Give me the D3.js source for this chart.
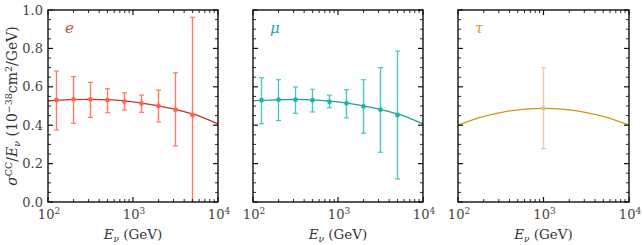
<!DOCTYPE html>
<html>
<head>
<meta charset="utf-8">
<script src="https://cdn.jsdelivr.net/npm/d3@7"></script>
<style>
  body { margin: 0; background: #fff; }
</style>
</head>
<body>
<div id="chart"></div>
<script>
// energies of the data points (GeV), log10 spacing 0.2
var energies = [125.9, 199.5, 316.2, 501.2, 794.3, 1258.9, 1995.3, 3162.3, 5011.9];

// electron flavour
var eVal = [0.531, 0.535, 0.535, 0.531, 0.524, 0.514, 0.500, 0.481, 0.453];
var eLo  = [0.375, 0.410, 0.441, 0.465, 0.479, 0.467, 0.417, 0.292, -0.05];
var eHi  = [0.682, 0.653, 0.623, 0.590, 0.569, 0.557, 0.583, 0.673, 0.962];

// muon flavour
var muVal = [0.530, 0.533, 0.533, 0.530, 0.522, 0.514, 0.498, 0.481, 0.453];
var muLo  = [0.408, 0.424, 0.462, 0.469, 0.491, 0.438, 0.358, 0.259, 0.120];
var muHi  = [0.647, 0.637, 0.599, 0.587, 0.556, 0.585, 0.637, 0.700, 0.786];

// tau flavour
var tauE   = [1000];
var tauVal = [0.488];
var tauLo  = [0.278];
var tauHi  = [0.700];

// theory curves (sampled)
var curveE   = [100, 177.8, 316.2, 562.3, 1000, 1778, 3162, 5623, 10000];
var eCurve   = [0.526, 0.533, 0.535, 0.532, 0.522, 0.505, 0.482, 0.452, 0.406];
var muCurve  = [0.527, 0.532, 0.534, 0.531, 0.521, 0.505, 0.482, 0.452, 0.406];
var tauCurve = [0.400, 0.440, 0.466, 0.482, 0.488, 0.482, 0.466, 0.440, 0.400];

var yTicks = [0.0, 0.2, 0.4, 0.6, 0.8, 1.0];
var xTicks = [100, 1000, 10000];

var panels = [
  {name: "e", left: 48, right: 218, E: energies, v: eVal, lo: eLo, hi: eHi, curve: eCurve,
   line: "#b8382a", mark: "#ff6347", err: "#ff7b63", lab: "#d9453a"},
  {name: "\u03bc", left: 253, right: 423, E: energies, v: muVal, lo: muLo, hi: muHi, curve: muCurve,
   line: "#1a9f99", mark: "#20b2aa", err: "#4cc6bf", lab: "#20a8a0"},
  {name: "\u03c4", left: 458, right: 629, E: tauE, v: tauVal, lo: tauLo, hi: tauHi, curve: tauCurve,
   line: "#c9961a", mark: "#dcbd9c", err: "#e8cbaa", lab: "#d4a017"}
];

var plotTop = 10, plotBottom = 202;
var serif = "'DejaVu Serif', serif";

var svg = d3.select("#chart").append("svg")
    .attr("width", 643)
    .attr("height", 245)
    .attr("font-family", serif)
    .style("font-family", serif);

var y = d3.scaleLinear().domain([0, 1]).range([plotBottom, plotTop]);

var minorY = d3.range(0, 1.0001, 0.05);
var minorX = [];
[100, 1000].forEach(function(d){
    for (var k = 2; k <= 9; k++) minorX.push(d * k);
});

panels.forEach(function(p, i){
    var x = d3.scaleLog().domain([100, 10000]).range([p.left, p.right]);
    var g = svg.append("g");

    var clipId = "clip" + i;
    svg.append("clipPath").attr("id", clipId).append("rect")
        .attr("x", p.left).attr("y", plotTop).attr("width", p.right - p.left).attr("height", plotBottom - plotTop);

    var plot = g.append("g").attr("clip-path", "url(#" + clipId + ")");

    // theory curve
    var line = d3.line()
        .x(function(d, j){ return x(curveE[j]); })
        .y(function(d){ return y(d); })
        .curve(d3.curveMonotoneX);
    plot.append("path")
        .datum(p.curve)
        .attr("d", line)
        .attr("fill", "none")
        .attr("stroke", p.line)
        .attr("stroke-width", 1.3);

    // error bars
    var idx = d3.range(p.v.length);
    plot.selectAll(".eb").data(idx).enter().append("line")
        .attr("x1", function(j){ return x(p.E[j]); })
        .attr("x2", function(j){ return x(p.E[j]); })
        .attr("y1", function(j){ return y(p.lo[j]); })
        .attr("y2", function(j){ return y(p.hi[j]); })
        .attr("stroke", p.err).attr("stroke-width", 1.4);
    [p.lo, p.hi].forEach(function(arr){
        plot.selectAll(null).data(idx).enter().append("line")
            .attr("x1", function(j){ return x(p.E[j]) - 2.5; })
            .attr("x2", function(j){ return x(p.E[j]) + 2.5; })
            .attr("y1", function(j){ return y(arr[j]); })
            .attr("y2", function(j){ return y(arr[j]); })
            .attr("stroke", p.err).attr("stroke-width", 1.2);
    });
    plot.selectAll(".pt").data(idx).enter().append("circle")
        .attr("cx", function(j){ return x(p.E[j]); })
        .attr("cy", function(j){ return y(p.v[j]); })
        .attr("r", 2.4)
        .attr("fill", p.mark);

    // frame
    g.append("rect")
        .attr("x", p.left).attr("y", plotTop)
        .attr("width", p.right - p.left).attr("height", plotBottom - plotTop)
        .attr("fill", "none").attr("stroke", "#111").attr("stroke-width", 1.4);

    // y ticks (inward, both sides)
    minorY.forEach(function(v){
        var major = Math.abs(Math.round(v * 5) - v * 5) < 1e-6;
        var len = major ? 5 : 3;
        g.append("line").attr("x1", p.left).attr("x2", p.left + len)
            .attr("y1", y(v)).attr("y2", y(v)).attr("stroke", "#111").attr("stroke-width", major ? 1.2 : 0.9);
        g.append("line").attr("x1", p.right).attr("x2", p.right - len)
            .attr("y1", y(v)).attr("y2", y(v)).attr("stroke", "#111").attr("stroke-width", major ? 1.2 : 0.9);
    });

    // x ticks (inward, top and bottom)
    xTicks.concat(minorX).forEach(function(v){
        var major = xTicks.indexOf(v) >= 0;
        var len = major ? 5 : 3;
        g.append("line").attr("x1", x(v)).attr("x2", x(v))
            .attr("y1", plotBottom).attr("y2", plotBottom - len).attr("stroke", "#111").attr("stroke-width", major ? 1.2 : 0.9);
        g.append("line").attr("x1", x(v)).attr("x2", x(v))
            .attr("y1", plotTop).attr("y2", plotTop + len).attr("stroke", "#111").attr("stroke-width", major ? 1.2 : 0.9);
    });

    // x tick labels
    xTicks.forEach(function(v){
        var t = g.append("text")
            .attr("x", x(v) + 1).attr("y", 219)
            .attr("text-anchor", "middle")
            .attr("font-size", 13)
            .attr("fill", "#444");
        t.append("tspan").text("10");
        t.append("tspan").attr("font-size", 9).attr("dy", -5).text(Math.round(Math.log10(v)));
    });

    // x label
    var xl = g.append("text")
        .attr("x", (p.left + p.right) / 2).attr("y", 239)
        .attr("text-anchor", "middle")
        .attr("font-size", 13.5)
        .attr("fill", "#333");
    xl.append("tspan").attr("font-style", "italic").text("E");
    xl.append("tspan").attr("font-style", "italic").attr("font-size", 9).attr("dy", 3).text("\u03bd");
    xl.append("tspan").attr("dy", -3).text(" (GeV)");

    // flavour label
    g.append("text")
        .attr("x", p.left + 17).attr("y", 33)
        .attr("font-size", 15).attr("font-style", "italic")
        .attr("fill", p.lab)
        .text(p.name);

    // y tick labels only on first panel
    if (i === 0) {
        yTicks.forEach(function(v){
            g.append("text")
                .attr("x", p.left - 5).attr("y", y(v) + 4.5)
                .attr("text-anchor", "end")
                .attr("font-size", 13)
                .attr("fill", "#444")
                .text(v.toFixed(1));
        });
    }
});

// y axis label
var yl = svg.append("text")
    .attr("transform", "translate(17," + ((plotTop + plotBottom) / 2) + ") rotate(-90)")
    .attr("text-anchor", "middle")
    .attr("font-size", 14)
    .attr("fill", "#333");
yl.append("tspan").attr("font-style", "italic").text("\u03c3");
yl.append("tspan").attr("font-size", 9.5).attr("dy", -5).text("CC");
yl.append("tspan").attr("dy", 5).text("/");
yl.append("tspan").attr("font-style", "italic").text("E");
yl.append("tspan").attr("font-style", "italic").attr("font-size", 9.5).attr("dy", 3).text("\u03bd");
yl.append("tspan").attr("dy", -3).text(" (10");
yl.append("tspan").attr("font-size", 9.5).attr("dy", -5).text("\u221238");
yl.append("tspan").attr("dy", 5).text("cm");
yl.append("tspan").attr("font-size", 9.5).attr("dy", -5).text("2");
yl.append("tspan").attr("dy", 5).text("/GeV)");
</script>
</body>
</html>
